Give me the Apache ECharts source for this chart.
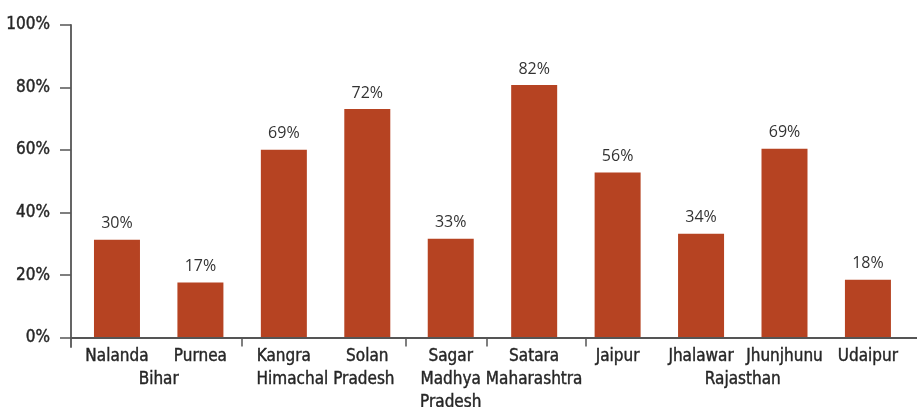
<!DOCTYPE html>
<html>
<head>
<meta charset="utf-8">
<script src="https://cdn.jsdelivr.net/npm/echarts@6/dist/echarts.min.js"></script>
<style>
  html, body { margin: 0; padding: 0; background: #fff; }
  #chart { width: 917px; height: 407px; }
</style>
</head>
<body>
<div id="chart"></div>
<script>
// districts, in the order they are drawn
var districts = ['Nalanda', 'Purnea', 'Kangra', 'Solan', 'Sagar', 'Satara', 'Jaipur', 'Jhalawar', 'Jhunjhunu', 'Udaipur'];
// bar heights as drawn (%)
var barHeights = [31.3, 17.6, 60.1, 73.1, 31.6, 80.8, 52.8, 33.2, 60.4, 18.5];
// printed labels above the bars (%)
var barLabels = [30, 17, 69, 72, 33, 82, 56, 34, 69, 18];
// states and the first/last district index they cover
var states = ['Bihar', 'Himachal Pradesh', 'Madhya\nPradesh', 'Maharashtra', 'Rajasthan'];
var stateFirst = [0, 2, 4, 5, 6];
var stateLast = [1, 3, 4, 5, 9];
// where the state separators fall, in district units
var stateBreaks = [1.49, 3.46, 4.43, 5.62];
// y axis ticks
var yTicks = [0, 20, 40, 60, 80, 100];

var barColor = '#b64322';
var axisColor = '#555';
var textColor = '#262626';
var condensed = "'DejaVu Sans Condensed', 'Liberation Sans Narrow', sans-serif";

var districtPos = districts.map(function (d, i) { return i; });
var stateCenters = states.map(function (s, i) { return (stateFirst[i] + stateLast[i]) / 2; });

function stateAt(v) {
    for (var i = 0; i < stateCenters.length; i++) {
        if (Math.abs(stateCenters[i] - v) < 1e-6) return states[i];
    }
    return '';
}

// shared look of the condensed axis text (a thin outline makes it a bit heavier)
var axisText = {
    fontFamily: condensed,
    fontSize: 17,
    color: textColor,
    textBorderColor: textColor,
    textBorderWidth: 0.4
};

var option = {
    animation: false,
    grid: { left: 71, right: 0, top: 25, bottom: 60, outerBoundsMode: 'none' },
    xAxis: [
        {
            type: 'value',
            min: -0.551,
            max: 9.588,
            z: 3,
            splitLine: { show: false },
            axisLine: { show: true, onZero: true, lineStyle: { color: axisColor, width: 1.8 } },
            axisTick: {
                show: true,
                customValues: stateBreaks,
                length: 9,
                lineStyle: { color: axisColor, width: 1.5 }
            },
            axisLabel: Object.assign({
                customValues: districtPos,
                formatter: function (v) { return districts[Math.round(v)]; },
                margin: -2,
                lineHeight: 23
            }, axisText)
        },
        {
            type: 'value',
            min: -0.551,
            max: 9.588,
            position: 'bottom',
            splitLine: { show: false },
            axisLine: { show: false, onZero: false },
            axisTick: { show: false },
            axisLabel: Object.assign({
                customValues: stateCenters,
                formatter: function (v) { return stateAt(v); },
                margin: 21,
                lineHeight: 23
            }, axisText)
        }
    ],
    yAxis: {
        type: 'value',
        min: -3,
        max: 100,
        splitLine: { show: false },
        axisLine: { show: true, onZero: false, lineStyle: { color: axisColor, width: 1.8 } },
        axisTick: {
            show: true,
            customValues: yTicks,
            length: 11,
            lineStyle: { color: axisColor, width: 1.5 }
        },
        axisLabel: Object.assign({
            customValues: yTicks,
            formatter: '{value}%',
            margin: 21
        }, axisText)
    },
    series: [
        {
            type: 'bar',
            xAxisIndex: 0,
            barWidth: 46,
            itemStyle: { color: barColor },
            data: barHeights.map(function (v, i) { return [i, v]; }),
            label: {
                show: true,
                position: 'top',
                distance: 6,
                fontFamily: "'Open Sans', 'Noto Sans', sans-serif",
                fontSize: 16,
                lineHeight: 20,
                color: '#333',
                formatter: function (p) { return barLabels[p.dataIndex] + '%'; }
            }
        }
    ]
};

var chart = echarts.init(document.getElementById('chart'));
chart.setOption(option);
</script>
</body>
</html>
